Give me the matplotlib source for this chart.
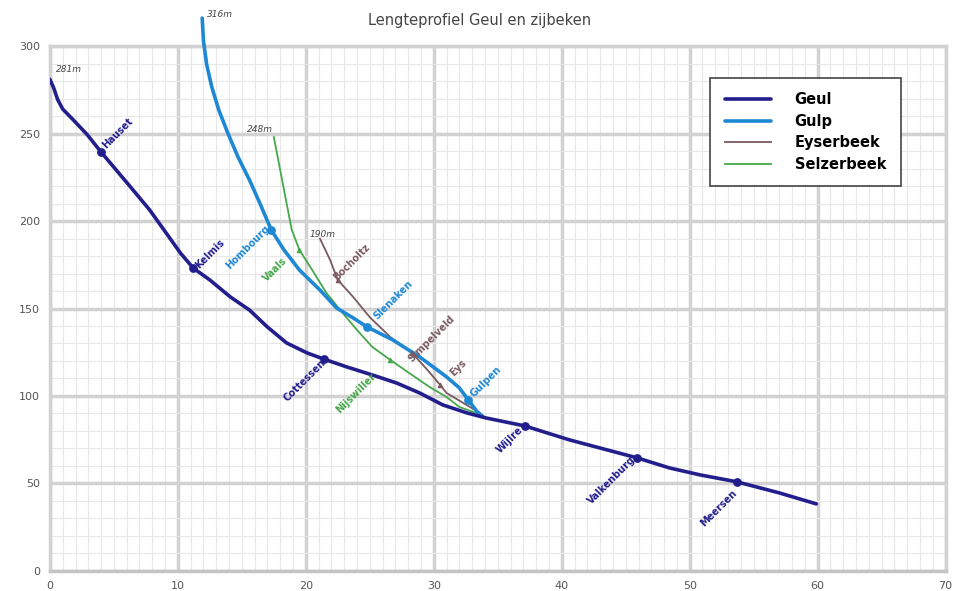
import numpy as np
import matplotlib
matplotlib.use('Agg')
from matplotlib import pyplot as plt
from matplotlib.ticker import MultipleLocator

# afstand (km) en hoogte (m)
geul_x = [0, 0.3, 0.6, 1.0, 1.8, 2.9, 4.0, 5.2, 6.5, 7.8, 9.1, 10.2, 11.2, 12.5, 14.1, 15.6,
          17.0, 18.5, 20.1, 21.4, 23.2, 25.2, 27.1, 28.9, 30.7, 32.6, 34.1, 37.1, 40.6,
          45.9, 48.4, 50.8, 53.7, 57, 59.9]
geul_y = [281, 276, 269.5, 264, 258, 249.5, 239.4, 229, 217.7, 206.3, 193, 181.7, 173.1,
          166.3, 156.6, 149.1, 139.4, 130.3, 124.6, 121.1, 116.6, 112, 107.4, 101.7, 94.9,
          90.3, 87.4, 82.9, 74.9, 64.6, 58.9, 54.9, 50.9, 44.6, 38.3]

gulp_x = [11.9, 12.0, 12.25, 12.65, 13.2, 13.9, 14.7, 15.6, 16.4, 17.3, 18.3, 19.5, 21.1,
          22.4, 23.7, 24.8, 26.8, 28.9, 31, 32, 32.7, 33.4, 33.8]
gulp_y = [316, 303, 289.5, 276.6, 263.4, 250.3, 236.6, 223.4, 210.3, 194.9, 183.4, 172,
          160.6, 150.3, 144.6, 139.4, 132, 122.3, 110.9, 104.6, 97.7, 90.9, 88.5]

eys_x = [21.1, 21.9, 22.5, 23.7, 25, 26.6, 28.3, 29.5, 30.5, 31, 32.3, 33.6]
eys_y = [190, 177.7, 166.3, 156.6, 145, 133.7, 124.6, 114.9, 106.3, 101.7, 96, 90.3]

selz_x = [17.5, 18.0, 18.5, 18.9, 19.5, 20.5, 21.6, 22.7, 24, 25.2, 26.6, 28.1, 29.7, 31, 32, 33.8]
selz_y = [248, 229, 210, 195, 183.4, 172, 159, 149, 137.7, 128, 120.6, 113, 105, 99.4, 93.7, 89]

# plaatsen langs de beken
geul_places = ['Hauset', 'Kelmis', 'Cottessen', 'Wijlre', 'Valkenburg', 'Meersen']
geul_px = [4.0, 11.2, 21.4, 37.1, 45.9, 53.7]
geul_py = [239.4, 173.1, 121.1, 82.9, 64.6, 50.9]
geul_lx = [5.3, 12.5, 19.9, 35.9, 43.9, 52.3]
geul_ly = [250, 181, 109, 75, 52, 36]

gulp_places = ['Hombourg', 'Slenaken', 'Gulpen']
gulp_px = [17.3, 24.8, 32.7]
gulp_py = [194.9, 139.4, 97.7]
gulp_lx = [15.5, 26.8, 34.1]
gulp_ly = [185, 155, 108]

eys_places = ['Bocholtz', 'Simpelveld', 'Eys']
eys_px = [22.5, 28.3, 30.5]
eys_py = [166.3, 124.6, 106.3]
eys_lx = [23.6, 29.8, 31.9]
eys_ly = [176.6, 132.6, 116]

selz_places = ['Vaals', 'Nijswiller']
selz_px = [19.5, 26.6]
selz_py = [183.4, 120.6]
selz_lx = [17.6, 23.9]
selz_ly = [172, 101.7]

c_geul = '#221e8c'
c_gulp = '#1f88d4'
c_eys = '#7a5a5e'
c_selz = '#45a84a'

fig = plt.figure(figsize=(9.6, 5.91), dpi=100)
ax = fig.add_axes([0.052, 0.034, 0.933, 0.888])

ax.plot(geul_x, geul_y, color=c_geul, lw=2.6, label='Geul', zorder=5,
        solid_capstyle='round', solid_joinstyle='round')
ax.plot(gulp_x, gulp_y, color=c_gulp, lw=2.6, label='Gulp', zorder=4, clip_on=False,
        solid_capstyle='round', solid_joinstyle='round')
ax.plot(eys_x, eys_y, color=c_eys, lw=1.3, label='Eyserbeek', zorder=3)
ax.plot(selz_x, selz_y, color=c_selz, lw=1.3, label='Selzerbeek', zorder=3)

ax.scatter(geul_px, geul_py, s=28, color=c_geul, zorder=6)
ax.scatter(gulp_px, gulp_py, s=28, color=c_gulp, zorder=6)
ax.scatter(eys_px, eys_py, s=9, marker='^', color=c_eys, zorder=6)
ax.scatter(selz_px, selz_py, s=9, marker='^', color=c_selz, zorder=6)

for names, lx, ly, c in [(geul_places, geul_lx, geul_ly, c_geul),
                          (gulp_places, gulp_lx, gulp_ly, c_gulp),
                          (eys_places, eys_lx, eys_ly, c_eys),
                          (selz_places, selz_lx, selz_ly, c_selz)]:
    for n, x, y in zip(names, lx, ly):
        ax.text(x, y, n, color=c, fontsize=7, fontweight='bold', rotation=45,
                ha='center', va='center', zorder=7)

ax.text(0.5, 284, '281m', fontsize=6.5, style='italic', color='#444444', ha='left', va='bottom')
ax.text(12.3, 318, '316m', fontsize=6.5, style='italic', color='#444444', ha='left',
        va='center', clip_on=False)
ax.text(17.4, 250, '248m', fontsize=6.5, style='italic', color='#444444', ha='right', va='bottom')
ax.text(20.3, 190, '190m', fontsize=6.5, style='italic', color='#444444', ha='left', va='bottom')

ax.set_xlim(0, 70)
ax.set_ylim(0, 300)
ax.xaxis.set_major_locator(MultipleLocator(10))
ax.xaxis.set_minor_locator(MultipleLocator(1))
ax.yaxis.set_major_locator(MultipleLocator(50))
ax.yaxis.set_minor_locator(MultipleLocator(10))
ax.grid(which='major', color='#d2d2d2', lw=2.5)
ax.grid(which='minor', color='#e8e8e8', lw=0.8)
ax.set_axisbelow(True)
ax.tick_params(which='both', length=0, labelsize=8, labelcolor='#555555', pad=7)
for s in ax.spines.values():
    s.set_color('#d2d2d2')
    s.set_linewidth(2.5)
ax.spines['bottom'].set_color('#c4c4c4')

leg = ax.legend(loc='upper right', bbox_to_anchor=(0.95, 0.94), fancybox=False,
                edgecolor='#444444', framealpha=1, handlelength=3.2, labelspacing=0.45,
                borderpad=1.0, handletextpad=1.6, borderaxespad=0,
                prop={'weight': 'bold', 'size': 10.5})
leg.get_frame().set_linewidth(1.2)

fig.text(0.5, 0.965, 'Lengteprofiel Geul en zijbeken', ha='center', va='center',
         fontsize=10.5, color='#444444')

plt.savefig('out.png', dpi=100)
